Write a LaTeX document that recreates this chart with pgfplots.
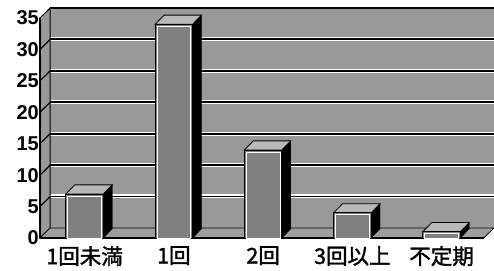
\documentclass[border=0pt]{standalone}
\usepackage{pgfplots}
\pgfplotsset{compat=1.18}
\usepackage{fontspec}
\setmainfont{Liberation Sans}
\newfontfamily\cjk[BoldFont={Noto Sans CJK JP},BoldFeatures={FakeBold=1.6}]{Noto Sans CJK JP}
\definecolor{wall}{gray}{0.6}
\definecolor{floorc}{gray}{0.62}
\definecolor{barfront}{gray}{0.5}
\definecolor{bartop}{gray}{0.72}
\begin{document}
\begin{tikzpicture}
\begin{axis}[
  x=89.25pt, y=6.2857pt,
  xmin=-0.5, xmax=4.587, ymin=0, ymax=36.6,
  axis line style={draw=none}, tick style={draw=none},
  ytick={0,5,...,35},
  xtick={0,1,2,3,4},
  xticklabels={1回未満,1回,2回,3回以上,不定期},
  clip=false,
  /pgf/number format/assume math mode=true,
  yticklabel style={font=\fontsize{20}{20}\selectfont\bfseries, inner sep=0pt, anchor=east, xshift=-1pt},
  xticklabel style={font=\cjk\bfseries\fontsize{21.5}{21.5}\selectfont, inner sep=0pt, anchor=north, yshift=-8pt},
]
% back wall
\addplot[fill=wall, draw=none] coordinates {(-0.385,1.6) (4.587,1.6) (4.587,36.6) (-0.385,36.6)} -- cycle;
% back gridlines
\addplot[white, line width=4pt] coordinates {(-0.385,6.6) (4.587,6.6)};
\addplot[white, line width=4pt] coordinates {(-0.385,11.6) (4.587,11.6)};
\addplot[white, line width=4pt] coordinates {(-0.385,16.6) (4.587,16.6)};
\addplot[white, line width=4pt] coordinates {(-0.385,21.6) (4.587,21.6)};
\addplot[white, line width=4pt] coordinates {(-0.385,26.6) (4.587,26.6)};
\addplot[white, line width=4pt] coordinates {(-0.385,31.6) (4.587,31.6)};
\addplot[black, line width=1.8pt] coordinates {(-0.385,6.6) (4.587,6.6)};
\addplot[black, line width=1.8pt] coordinates {(-0.385,11.6) (4.587,11.6)};
\addplot[black, line width=1.8pt] coordinates {(-0.385,16.6) (4.587,16.6)};
\addplot[black, line width=1.8pt] coordinates {(-0.385,21.6) (4.587,21.6)};
\addplot[black, line width=1.8pt] coordinates {(-0.385,26.6) (4.587,26.6)};
\addplot[black, line width=1.8pt] coordinates {(-0.385,31.6) (4.587,31.6)};
\addplot[black, line width=1.8pt] coordinates {(-0.385,36.6) (4.587,36.6)};
% left wall
\addplot[fill=wall, draw=black, line width=1pt] coordinates {(-0.5,0) (-0.385,1.6) (-0.385,36.6) (-0.5,35)} -- cycle;
\addplot[black, line width=1.2pt] coordinates {(-0.5,5) (-0.385,6.6)};
\addplot[black, line width=1.2pt] coordinates {(-0.5,10) (-0.385,11.6)};
\addplot[black, line width=1.2pt] coordinates {(-0.5,15) (-0.385,16.6)};
\addplot[black, line width=1.2pt] coordinates {(-0.5,20) (-0.385,21.6)};
\addplot[black, line width=1.2pt] coordinates {(-0.5,25) (-0.385,26.6)};
\addplot[black, line width=1.2pt] coordinates {(-0.5,30) (-0.385,31.6)};
\addplot[black, line width=1.6pt] coordinates {(-0.5,0) (-0.5,35)};
% floor
\addplot[fill=floorc, draw=black, line width=0.8pt] coordinates {(-0.5,0) (4.472,0) (4.587,1.6) (-0.385,1.6)} -- cycle;
\addplot[black, line width=2.2pt] coordinates {(-0.5,0) (4.472,0)};
% bars: side faces
\addplot[fill=black, draw=black] coordinates {(0.21,0) (0.31,1.45) (0.31,8.45) (0.21,7)} -- cycle;
\addplot[fill=black, draw=black] coordinates {(1.21,0) (1.31,1.45) (1.31,35.45) (1.21,34)} -- cycle;
\addplot[fill=black, draw=black] coordinates {(2.21,0) (2.31,1.45) (2.31,15.45) (2.21,14)} -- cycle;
\addplot[fill=black, draw=black] coordinates {(3.21,0) (3.31,1.45) (3.31,5.45) (3.21,4)} -- cycle;
\addplot[fill=black, draw=black] coordinates {(4.21,0) (4.31,1.45) (4.31,2.45) (4.21,1)} -- cycle;
% bars: top faces
\addplot[fill=bartop, draw=black, line width=0.8pt] coordinates {(-0.21,7) (0.21,7) (0.31,8.45) (-0.11,8.45)} -- cycle;
\addplot[fill=bartop, draw=black, line width=0.8pt] coordinates {(0.79,34) (1.21,34) (1.31,35.45) (0.89,35.45)} -- cycle;
\addplot[fill=bartop, draw=black, line width=0.8pt] coordinates {(1.79,14) (2.21,14) (2.31,15.45) (1.89,15.45)} -- cycle;
\addplot[fill=bartop, draw=black, line width=0.8pt] coordinates {(2.79,4) (3.21,4) (3.31,5.45) (2.89,5.45)} -- cycle;
\addplot[fill=bartop, draw=black, line width=0.8pt] coordinates {(3.79,1) (4.21,1) (4.31,2.45) (3.89,2.45)} -- cycle;
% bars: front faces
\addplot[ybar, bar width=0.42, fill=barfront, draw=black, line width=0.8pt] coordinates {(0,7) (1,34) (2,14) (3,4) (4,1)};
\addplot[ybar, bar width=0.38, fill=none, draw=white, line width=0.7pt] coordinates {(0,6.7) (1,33.7) (2,13.7) (3,3.7) (4,0.8)};
\coordinate (bl) at (axis cs:-0.948,-5.25);
\coordinate (tr) at (axis cs:4.587,37.86);
\end{axis}
\pgfresetboundingbox
\path (bl) rectangle (tr);
\end{tikzpicture}
\end{document}
